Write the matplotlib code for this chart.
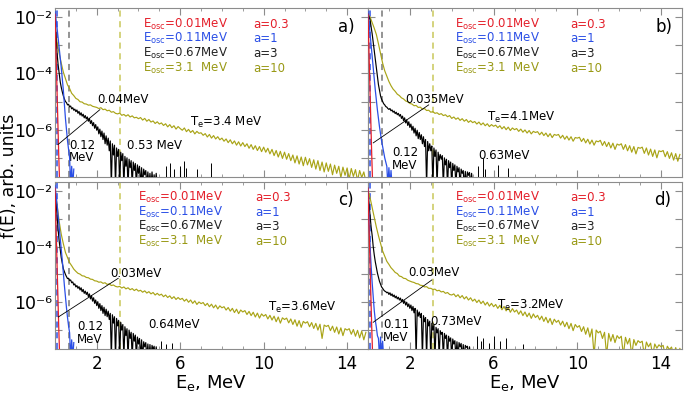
import numpy as np
import matplotlib.pyplot as plt

# --- electron energy spectra f(E), four runs a)-d) ---
# energy grids (MeV)
e_yel = np.arange(150) * 0.1        # 0 .. 14.9
e_blk = np.arange(101) * 0.05       # 0 .. 5.0
e_red = np.arange(11) * 0.025

# log10 f(E)
yellow_a = [-2.50, -2.90, -3.30, -3.64, -3.96, -4.19, -4.41, -4.54, -4.71, -4.79,
            -4.89, -4.93, -5.01, -5.02, -5.08, -5.09, -5.13, -5.12, -5.17, -5.19,
            -5.21, -5.25, -5.22, -5.29, -5.27, -5.33, -5.31, -5.38, -5.36, -5.42,
            -5.44, -5.41, -5.49, -5.46, -5.52, -5.47, -5.55, -5.51, -5.58, -5.56,
            -5.61, -5.57, -5.66, -5.60, -5.70, -5.64, -5.73, -5.69, -5.78, -5.72,
            -5.80, -5.76, -5.85, -5.79, -5.90, -5.82, -5.93, -5.86, -5.98, -5.89,
            -5.96, -6.02, -5.94, -6.07, -5.99, -6.10, -6.03, -6.15, -6.06, -6.13,
            -6.11, -6.20, -6.14, -6.26, -6.17, -6.30, -6.21, -6.33, -6.25, -6.36,
            -6.30, -6.41, -6.33, -6.46, -6.36, -6.50, -6.40, -6.55, -6.43, -6.58,
            -6.46, -6.60, -6.50, -6.66, -6.53, -6.70, -6.57, -6.74, -6.60, -6.78,
            -6.62, -6.80, -6.66, -6.86, -6.70, -6.92, -6.74, -6.97, -6.77, -7.02,
            -6.80, -7.05, -6.85, -7.10, -6.90, -7.18, -6.93, -7.22, -6.97, -7.28,
            -6.98, -7.25, -7.03, -7.34, -7.07, -7.40, -7.10, -7.45, -7.15, -7.50,
            -7.18, -7.48, -7.22, -7.60, -7.26, -7.55, -7.30, -7.70, -7.33, -7.62,
            -7.36, -7.75, -7.38, -7.66, -7.42, -7.80, -7.45, -7.70, -7.50, -7.85]
yellow_b = [-1.90, -2.00, -2.20, -2.40, -2.62, -2.95, -3.30, -3.64, -3.91, -4.10,
            -4.29, -4.44, -4.56, -4.64, -4.74, -4.79, -4.87, -4.91, -4.98, -5.01,
            -5.07, -5.09, -5.15, -5.14, -5.21, -5.20, -5.27, -5.25, -5.32, -5.31,
            -5.38, -5.36, -5.42, -5.40, -5.46, -5.43, -5.50, -5.47, -5.54, -5.50,
            -5.60, -5.55, -5.63, -5.58, -5.67, -5.61, -5.70, -5.64, -5.74, -5.68,
            -5.75, -5.71, -5.80, -5.73, -5.83, -5.76, -5.86, -5.79, -5.89, -5.82,
            -5.88, -5.84, -5.93, -5.86, -5.97, -5.89, -6.00, -5.91, -6.03, -5.94,
            -6.00, -5.96, -6.06, -5.98, -6.09, -6.01, -6.12, -6.03, -6.15, -6.06,
            -6.10, -6.07, -6.18, -6.09, -6.21, -6.12, -6.25, -6.14, -6.28, -6.17,
            -6.20, -6.17, -6.30, -6.20, -6.34, -6.23, -6.37, -6.25, -6.41, -6.28,
            -6.30, -6.27, -6.42, -6.31, -6.47, -6.34, -6.51, -6.37, -6.55, -6.40,
            -6.43, -6.38, -6.56, -6.42, -6.60, -6.45, -6.65, -6.48, -6.70, -6.51,
            -6.55, -6.50, -6.70, -6.53, -6.75, -6.57, -6.80, -6.60, -6.86, -6.63,
            -6.66, -6.62, -6.84, -6.65, -6.90, -6.69, -6.95, -6.72, -7.00, -6.75,
            -6.78, -6.74, -6.96, -6.78, -7.02, -6.82, -7.08, -6.85, -7.12, -6.88]
yellow_c = [-1.95, -2.50, -3.10, -3.56, -3.90, -4.21, -4.39, -4.58, -4.69, -4.81,
            -4.89, -4.96, -4.99, -5.05, -5.06, -5.11, -5.12, -5.17, -5.18, -5.23,
            -5.24, -5.28, -5.27, -5.32, -5.30, -5.36, -5.34, -5.40, -5.38, -5.43,
            -5.45, -5.43, -5.49, -5.45, -5.52, -5.48, -5.55, -5.51, -5.58, -5.53,
            -5.60, -5.57, -5.64, -5.59, -5.67, -5.62, -5.70, -5.65, -5.74, -5.68,
            -5.75, -5.71, -5.80, -5.74, -5.83, -5.77, -5.87, -5.80, -5.90, -5.83,
            -5.90, -5.86, -5.96, -5.89, -6.00, -5.92, -6.04, -5.95, -6.08, -5.99,
            -6.05, -6.01, -6.12, -6.04, -6.16, -6.07, -6.20, -6.10, -6.24, -6.13,
            -6.20, -6.16, -6.28, -6.19, -6.32, -6.22, -6.37, -6.25, -6.41, -6.28,
            -6.35, -6.30, -6.44, -6.33, -6.48, -6.36, -6.53, -6.39, -6.57, -6.42,
            -6.50, -6.44, -6.60, -6.47, -6.64, -6.50, -6.70, -6.53, -6.75, -6.56,
            -6.62, -6.57, -6.74, -6.60, -6.80, -6.63, -6.86, -6.66, -6.90, -6.69,
            -6.75, -6.70, -6.88, -6.73, -6.94, -6.76, -7.00, -6.79, -7.30, -6.82,
            -6.87, -6.83, -7.02, -6.86, -7.08, -6.89, -7.14, -6.92, -7.20, -6.95,
            -7.00, -6.95, -7.15, -6.98, -7.22, -7.01, -7.28, -7.04, -7.35, -7.08]
yellow_d = [-1.95, -2.25, -2.60, -2.96, -3.30, -3.61, -3.89, -4.16, -4.34, -4.53,
            -4.64, -4.76, -4.84, -4.93, -4.97, -5.06, -5.08, -5.14, -5.15, -5.21,
            -5.24, -5.27, -5.29, -5.33, -5.34, -5.39, -5.40, -5.45, -5.44, -5.50,
            -5.50, -5.54, -5.53, -5.59, -5.57, -5.63, -5.61, -5.68, -5.65, -5.72,
            -5.74, -5.70, -5.80, -5.73, -5.84, -5.76, -5.88, -5.80, -5.92, -5.84,
            -5.96, -5.89, -6.01, -5.92, -6.05, -5.96, -6.10, -6.00, -6.14, -6.04,
            -6.16, -6.08, -6.22, -6.11, -6.27, -6.15, -6.31, -6.19, -6.36, -6.23,
            -6.35, -6.28, -6.43, -6.31, -6.48, -6.35, -6.52, -6.39, -6.58, -6.42,
            -6.55, -6.47, -6.63, -6.50, -6.69, -6.54, -6.74, -6.58, -6.80, -6.61,
            -6.72, -6.65, -6.82, -6.68, -6.88, -6.72, -6.95, -6.76, -7.02, -6.80,
            -6.90, -6.84, -7.05, -6.88, -7.15, -6.92, -7.25, -6.96, -7.90, -7.00,
            -7.10, -7.04, -7.30, -7.08, -7.90, -7.12, -7.40, -7.16, -7.45, -7.20,
            -7.30, -7.22, -7.90, -7.26, -7.50, -7.30, -7.90, -7.34, -7.55, -7.38,
            -7.45, -7.40, -7.90, -7.43, -7.60, -7.47, -7.90, -7.50, -7.65, -7.53,
            -7.60, -7.55, -7.90, -7.58, -7.70, -7.61, -7.90, -7.63, -7.90, -7.66]

black_a = [-2.00, -2.70, -3.30, -3.70, -4.00, -4.30, -4.50, -4.66, -4.80, -4.91,
           -5.00, -5.04, -5.12, -5.10, -5.19, -5.16, -5.26, -5.22, -5.31, -5.27,
           -5.36, -5.30, -5.42, -5.35, -5.48, -5.40, -5.52, -5.45, -5.58, -5.50,
           -5.62, -5.55, -5.70, -5.60, -5.78, -5.68, -5.86, -5.75, -5.95, -5.82,
           -6.02, -5.90, -6.15, -5.98, -6.25, -6.05, -6.35, -6.12, -6.50, -6.22,
           -6.55, -6.30, -6.75, -6.40, -8.00, -6.50, -6.90, -6.55, -8.00, -6.65,
           -6.95, -6.70, -8.00, -6.80, -7.10, -6.85, -8.00, -6.95, -7.30, -7.00,
           -8.00, -7.05, -7.35, -7.10, -8.00, -7.15, -7.45, -7.20, -8.00, -7.25,
           -7.55, -7.30, -8.00, -7.35, -8.00, -7.40, -7.60, -7.45, -8.00, -7.50,
           -8.00, -7.55, -8.00, -7.50, -8.00, -7.60, -8.00, -7.55, -8.00, -8.00,
           -8.00]
black_b = [-1.90, -2.00, -2.10, -2.35, -2.60, -2.90, -3.20, -3.50, -3.80, -4.10,
           -4.40, -4.60, -4.80, -4.92, -5.00, -5.08, -5.12, -5.18, -5.20, -5.25,
           -5.28, -5.25, -5.33, -5.30, -5.38, -5.34, -5.43, -5.38, -5.47, -5.42,
           -5.52, -5.46, -5.60, -5.52, -5.68, -5.58, -5.76, -5.65, -5.85, -5.72,
           -5.92, -5.80, -6.02, -5.88, -6.12, -5.95, -6.22, -6.02, -6.32, -6.10,
           -6.35, -6.18, -6.50, -6.25, -6.60, -6.35, -8.00, -6.42, -6.75, -6.50,
           -6.75, -6.58, -8.00, -6.65, -6.95, -6.72, -8.00, -6.80, -7.10, -6.88,
           -7.05, -6.92, -8.00, -7.00, -7.25, -7.05, -8.00, -7.10, -7.35, -7.15,
           -8.00, -7.20, -7.45, -7.25, -8.00, -7.30, -7.50, -7.35, -8.00, -7.40,
           -7.55, -7.45, -8.00, -7.48, -8.00, -7.50, -7.62, -7.52, -8.00, -7.55,
           -8.00]
black_c = [-2.00, -2.40, -2.90, -3.40, -3.80, -4.10, -4.40, -4.60, -4.80, -4.90,
           -5.00, -5.08, -5.15, -5.14, -5.22, -5.20, -5.30, -5.27, -5.38, -5.34,
           -5.45, -5.40, -5.50, -5.44, -5.56, -5.48, -5.62, -5.54, -5.68, -5.60,
           -5.72, -5.64, -5.80, -5.70, -5.88, -5.76, -5.96, -5.84, -6.04, -5.92,
           -6.12, -5.98, -6.22, -6.05, -6.30, -6.12, -6.40, -6.18, -6.48, -6.25,
           -6.52, -6.32, -6.62, -6.40, -8.00, -6.45, -6.75, -6.52, -8.00, -6.58,
           -6.85, -6.65, -8.00, -6.72, -7.00, -6.80, -8.00, -6.88, -7.20, -6.95,
           -8.00, -7.00, -7.30, -7.08, -8.00, -7.12, -7.40, -7.18, -8.00, -7.25,
           -7.50, -7.30, -8.00, -7.35, -8.00, -7.42, -7.60, -7.45, -8.00, -7.50,
           -8.00, -7.52, -8.00, -7.55, -7.70, -7.58, -8.00, -7.60, -8.00, -8.00,
           -8.00]
black_d = [-2.00, -2.45, -2.90, -3.30, -3.60, -4.00, -4.30, -4.55, -4.75, -4.95,
           -5.10, -5.25, -5.35, -5.45, -5.50, -5.56, -5.60, -5.62, -5.66, -5.64,
           -5.72, -5.66, -5.76, -5.70, -5.80, -5.74, -5.84, -5.78, -5.88, -5.82,
           -5.92, -5.85, -5.98, -5.90, -6.04, -5.95, -6.10, -6.00, -6.16, -6.06,
           -6.22, -6.10, -6.30, -6.15, -6.38, -6.22, -8.00, -6.28, -6.50, -6.35,
           -6.55, -6.40, -8.00, -6.48, -6.70, -6.55, -8.00, -6.62, -6.85, -6.68,
           -8.00, -6.75, -7.00, -6.82, -8.00, -6.90, -7.10, -6.95, -8.00, -7.02,
           -7.15, -7.08, -8.00, -7.12, -7.30, -7.18, -8.00, -7.22, -7.40, -7.28,
           -8.00, -7.32, -7.50, -7.38, -8.00, -7.42, -8.00, -7.45, -7.60, -7.48,
           -8.00, -7.52, -8.00, -7.55, -7.62, -7.58, -8.00, -7.60, -8.00, -8.00,
           -8.00]

# isolated counts in the black tail: energy, log10 f
spikes_a = ([5.3, 5.5, 5.7, 6.0, 6.2, 6.3, 6.8, 7.5], [-7.3, -7.2, -7.4, -7.3, -7.1, -7.35, -7.4, -7.2])
spikes_b = ([5.25, 5.5, 5.6, 6.2, 6.7], [-7.3, -7.0, -7.4, -7.25, -7.35])
spikes_c = ([5.1, 5.3, 5.6], [-7.4, -7.5, -7.45])
spikes_d = ([5.2, 5.4, 5.5, 5.8, 6.0, 6.3, 6.6, 7.4], [-7.2, -7.4, -7.3, -7.45, -7.2, -7.4, -7.3, -7.5])

blue_a = [-1.80, -2.10, -2.40, -2.75, -3.10, -3.45, -3.80, -4.20, -4.60, -5.10,
          -5.60, -6.00, -6.40, -6.70, -7.00, -8.00, -7.30, -8.00, -7.40]
blue_b = [-1.80, -2.20, -2.60, -3.00, -3.40, -3.80, -4.20, -4.60, -4.95, -5.30,
          -5.60, -5.90, -6.15, -6.40, -6.60, -6.80, -7.00, -7.15, -7.30, -8.00,
          -7.35, -8.00, -7.45, -8.00, -8.00]
blue_c = [-1.80, -2.15, -2.50, -2.90, -3.30, -3.70, -4.10, -4.50, -4.95, -5.40,
          -5.80, -6.20, -6.55, -6.85, -7.10, -8.00, -7.35, -8.00, -7.45]
blue_d = [-1.90, -3.00, -4.00, -4.70, -5.30, -5.80, -6.30, -6.65, -6.90, -7.20,
          -7.30, -8.00, -7.25, -8.00, -7.40, -8.00, -8.00]

red_all = [-1.9, -2.6, -3.3, -4.0, -4.7, -5.4, -6.1, -6.8, -7.4, -8.0, -8.0]

# thin fit lines: (E1, E2), (log f1, log f2)
fit_a = ([0.14, 2.15], [-6.53, -5.29])
fit_b = ([0.25, 2.9], [-6.47, -5.12])
fit_c = ([0.16, 3.03], [-6.53, -5.14])
fit_d = ([0.25, 3.05], [-6.72, -5.20])

e_osc = [0.01, 0.11, 0.67, 3.1]
e_osc_txt = ['0.01MeV', '0.11MeV', '0.67MeV', '3.1  MeV']
a_txt = ['a=0.3', 'a=1', 'a=3', 'a=10']

t_cold = ['0.04MeV', '0.035MeV', '0.03MeV', '0.03MeV']
t_blue = ['0.12\nMeV', '0.12\nMeV', '0.12\nMeV', '0.11\nMeV']
t_black = ['0.53 MeV', '0.63MeV', '0.64MeV', '0.73MeV']
t_hot = ['3.4 MeV', '4.1MeV', '3.6MeV', '3.2MeV']
panel_tags = ['a)', 'b)', 'c)', 'd)']
ytick_vals = [1e-7, 1e-6, 1e-5, 1e-4, 1e-3, 1e-2]
ytick_txt = ['', '10\u207b\u2076', '', '10\u207b\u2074', '', '10\u207b\u00b2']

RED = '#e41f2a'
BLUE = '#2b4fe6'
OLIVE = '#a9a417'
OLIVE_TXT = '#999915'
GRAY = '#8c8c8c'
txt_cols = [RED, BLUE, '#222222', OLIVE_TXT]
dash_cols = [RED, BLUE, '#777777', '#c9c75a']

fig = plt.figure(figsize=(6.85, 3.94), dpi=100)
positions = [[0.0803, 0.5508, 0.4569, 0.4289],
             [0.5372, 0.5508, 0.4584, 0.4289],
             [0.0803, 0.1142, 0.4569, 0.4239],
             [0.5372, 0.1142, 0.4584, 0.4239]]

panels = [(yellow_a, black_a, spikes_a, blue_a, fit_a),
          (yellow_b, black_b, spikes_b, blue_b, fit_b),
          (yellow_c, black_c, spikes_c, blue_c, fit_c),
          (yellow_d, black_d, spikes_d, blue_d, fit_d)]

# text placement (axes fraction) per panel
osc_x = [0.281, 0.277, 0.265, 0.277]
a_x = [0.633, 0.643, 0.640, 0.643]
cold_pos = [(0.134, 0.456), (0.118, 0.456), (0.176, 0.455), (0.127, 0.461)]
blue_pos = [(0.045, 0.150), (0.076, 0.105), (0.070, 0.096), (0.048, 0.108)]
black_pos = [(0.230, 0.189), (0.350, 0.130), (0.297, 0.144), (0.197, 0.162)]
hot_pos = [(0.431, 0.325), (0.379, 0.350), (0.680, 0.250), (0.410, 0.263)]
tag_x = [0.905, 0.915, 0.905, 0.912]

for i, (yel, blk, spk, blu, fit) in enumerate(panels):
    ax = fig.add_axes(positions[i])
    ax.set_yscale('log')
    ax.set_xlim(0, 15)
    ax.set_ylim(10**-7.68, 10**-1.68)

    for e, c in zip(e_osc, dash_cols):
        ax.axvline(e, color=c, ls=(0, (4, 3)), lw=1.1, zorder=1)

    ax.plot(e_yel, 10**np.array(yel), color=OLIVE, lw=0.85, zorder=2)
    ax.plot(e_blk, 10**np.array(blk), color='black', lw=0.85, zorder=3)
    ax.vlines(spk[0], 1e-9, 10**np.array(spk[1]), color='black', lw=0.7, zorder=3)
    ax.plot(np.arange(len(blu)) * 0.05, 10**np.array(blu), color=BLUE, lw=0.9, zorder=4)
    ax.plot(e_red, 10**np.array(red_all), color=RED, lw=0.9, zorder=5)
    ax.plot(fit[0], 10**np.array(fit[1]), color='black', lw=0.6, zorder=6)

    # labels of the runs
    rows = [0.905, 0.818, 0.731, 0.644]
    for k in range(4):
        ax.text(osc_x[i], rows[k], r'$\mathrm{E_{osc}}$=' + e_osc_txt[k],
                transform=ax.transAxes, color=txt_cols[k], fontsize=8.5, va='center')
        ax.text(a_x[i], rows[k], a_txt[k], transform=ax.transAxes,
                color=txt_cols[k], fontsize=8.5, va='center')

    ax.text(*cold_pos[i], t_cold[i], transform=ax.transAxes, fontsize=8.5, va='center')
    ax.text(*blue_pos[i], t_blue[i], transform=ax.transAxes, fontsize=8.5,
            va='center', linespacing=0.95)
    ax.text(*black_pos[i], t_black[i], transform=ax.transAxes, fontsize=8.5, va='center')
    ax.text(*hot_pos[i], r'$\mathrm{T_e}$=' + t_hot[i], transform=ax.transAxes,
            fontsize=8.5, va='center')
    ax.text(tag_x[i], 0.89, panel_tags[i], transform=ax.transAxes, fontsize=12, va='center')

    # axes styling
    for s in ax.spines.values():
        s.set_color(GRAY)
    ax.set_xticks([2, 6, 10, 14])
    ax.set_xticks(np.arange(0, 16, 1), minor=True)
    ax.set_yticks(ytick_vals)
    ax.set_yticklabels(ytick_txt)
    ax.tick_params(which='both', direction='in', top=True, right=True, color=GRAY)
    ax.tick_params(which='major', length=5, width=0.8)
    ax.tick_params(which='minor', length=2.5, width=0.6)
    ax.tick_params(axis='y', labelsize=12.5, pad=2)
    ax.tick_params(axis='x', labelsize=12, pad=4)
    if i in (1, 3):
        ax.tick_params(axis='y', labelleft=False)
    if i in (0, 1):
        ax.tick_params(axis='x', labelbottom=False)
    else:
        ax.set_xlabel(r'$\mathrm{E_e}$, MeV', fontsize=13, labelpad=0)

fig.text(0.013, 0.555, 'f(E), arb. units', rotation=90, fontsize=12.5, va='center', ha='center')

plt.savefig('out.png', dpi=100)
